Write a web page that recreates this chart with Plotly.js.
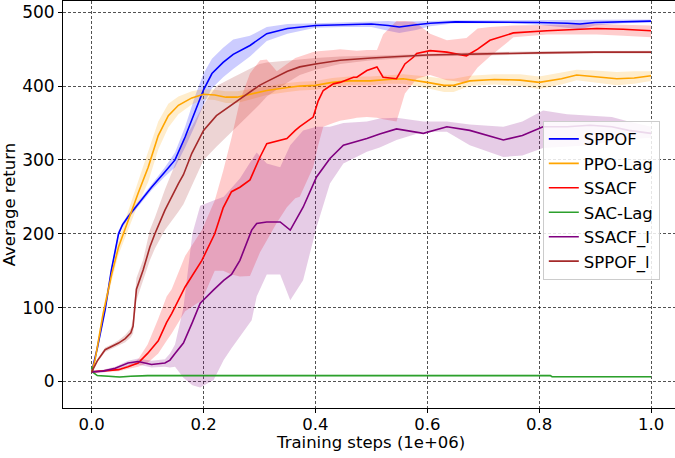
<!DOCTYPE html>
<html>
<head>
<meta charset="utf-8">
<script src="https://cdn.plot.ly/plotly-3.0.1.min.js"></script>
<style>html,body{margin:0;padding:0;background:#fff;}#chart{width:675px;height:458px;}</style>
</head>
<body>
<div id="chart"></div>
<script>
// ---- SPPOF (blue)
const sppofX = [0, .01, .024, .035, .048, .055, .065, .085, .107, .13, .149, .167, .185, .2, .215, .235, .253, .283, .313, .35, .4, .45, .5, .53, .55, .58, .605, .65, .7, .75, .8, .85, .873, .9, .95, 1.0];
const sppofMean = [13, 45, 97, 150, 200, 212, 223, 242, 263, 283, 300, 331, 367, 395, 417, 432, 443, 455, 471, 478, 482, 483, 484, 482, 480, 483, 485, 487, 487, 487, 486, 485, 484, 486, 487, 488];
const sppofUpper = [14, 48, 101, 154, 204, 215, 226, 245, 267, 289, 310, 345, 387, 417, 437, 452, 463, 468, 480, 484, 485, 486, 488, 488, 487, 488, 488, 489, 489, 489, 489, 490, 490, 489, 489, 490];
const sppofLower = [12, 42, 93, 146, 196, 209, 220, 239, 259, 277, 290, 317, 347, 375, 397, 412, 423, 440, 461, 471, 479, 480, 480, 475, 472, 476, 481, 485, 485, 485, 483, 479, 477, 482, 485, 486];

// ---- PPO-Lag (orange)
const ppoX = [0, .006, .02, .036, .048, .065, .083, .101, .119, .137, .155, .179, .2, .22, .24, .26, .29, .313, .35, .372, .4, .43, .46, .498, .53, .557, .6, .63, .647, .676, .72, .766, .8, .84, .867, .9, .939, .97, 1.0];
const ppoMean = [13, 29, 90, 146, 182, 218, 255, 290, 333, 360, 374, 384, 389, 388, 385, 385, 390, 394, 398, 400, 401, 405, 407, 407, 409, 410, 405, 401, 401, 407, 409, 408, 405, 410, 415, 413, 410, 411, 414];
const ppoUpper = [14, 32, 97, 155, 192, 230, 270, 310, 352, 376, 386, 393, 396, 395, 393, 393, 397, 400, 404, 406, 407, 411, 413, 413, 415, 416, 413, 410, 410, 414, 416, 416, 413, 418, 422, 421, 419, 420, 420];
const ppoLower = [12, 26, 83, 137, 172, 206, 240, 270, 314, 344, 362, 375, 382, 381, 377, 377, 383, 388, 392, 394, 395, 399, 401, 401, 403, 403, 397, 392, 392, 400, 402, 400, 396, 402, 408, 405, 401, 403, 407];

// ---- SSACF (red)
const ssacfX = [0, .02, .048, .065, .083, .1, .119, .134, .143, .167, .197, .22, .235, .25, .265, .283, .301, .313, .331, .349, .364, .372, .396, .405, .414, .432, .444, .468, .474, .492, .51, .521, .545, .56, .575, .581, .605, .635, .67, .69, .712, .754, .814, .86, .903, .95, 1.0];
const ssacfMean = [13, 14, 16, 20, 25, 38, 55, 80, 92, 128, 164, 200, 235, 257, 263, 273, 304, 322, 325, 329, 340, 345, 358, 380, 394, 403, 405, 412, 412, 421, 426, 412, 410, 430, 439, 444, 448, 446, 441, 450, 462, 472, 475, 477, 478, 477, 475];
const ssacfUpper = [14, 15, 18, 22, 30, 50, 85, 115, 125, 170, 205, 245, 285, 330, 380, 417, 435, 436, 420, 430, 438, 440, 446, 447, 448, 449, 450, 448, 448, 449, 449, 470, 488, 488, 487, 485, 471, 462, 465, 478, 480, 482, 483, 484, 484, 483, 482];
const ssacfLower = [12, 13, 14, 17, 20, 25, 38, 55, 65, 95, 110, 150, 150, 145, 142, 143, 175, 191, 215, 236, 248, 250, 290, 320, 345, 350, 353, 356, 357, 358, 357, 355, 352, 390, 405, 410, 415, 408, 405, 425, 440, 466, 470, 470, 470, 468, 466];

// ---- SAC-Lag (green)
const sacX = [0, .003, .01, .03, .05, .07, .1, .2, .4, .6, .82, .823, .9, 1.0];
const sacMean = [20, 12, 8, 7, 6, 7, 8, 8, 8, 8, 8, 6.5, 6.5, 6.5];
const sacUpper = [22, 13, 9, 8, 7, 8, 9, 9, 9, 9, 9, 7.5, 7.5, 7.5];
const sacLower = [12, 10, 7, 6, 5, 6, 7, 7, 7, 7, 7, 5.5, 5.5, 5.5];

// ---- SSACF_l (purple)
const ssacflX = [0, .02, .042, .065, .083, .107, .131, .14, .149, .164, .18, .194, .218, .236, .25, .265, .286, .295, .313, .337, .355, .378, .402, .426, .45, .492, .515, .545, .593, .635, .676, .736, .77, .807, .85, .891, .93, .96, 1.0];
const ssacflMean = [13, 14, 18, 25, 27, 23, 25, 29, 38, 52, 80, 106, 124, 137, 145, 164, 205, 214, 216, 216, 205, 236, 277, 302, 320, 329, 335, 342, 336, 345, 340, 327, 333, 345, 345, 347, 345, 340, 336];
const ssacflUpper = [14, 16, 20, 28, 31, 28, 30, 38, 50, 100, 200, 238, 245, 250, 262, 275, 300, 310, 295, 290, 320, 340, 345, 345, 350, 352, 356, 357, 352, 352, 348, 345, 352, 367, 362, 360, 358, 352, 345];
const ssacflLower = [12, 12, 15, 21, 23, 19, 20, 19, 20, 5, -5, -8, 2, 29, 45, 61, 83, 115, 145, 145, 110, 137, 209, 268, 295, 311, 317, 327, 338, 338, 320, 304, 306, 316, 318, 320, 325, 328, 330];

// ---- SPPOF_l (brown)
const sppoflX = [0, .01, .024, .038, .048, .06, .07, .074, .08, .092, .104, .113, .131, .155, .164, .179, .2, .223, .253, .274, .3, .313, .35, .372, .4, .444, .5, .6, .7, .8, .9, 1.0];
const sppoflMean = [13, 28, 43, 48, 52, 58, 66, 75, 125, 151, 182, 200, 232, 268, 280, 309, 340, 360, 376, 387, 401, 406, 420, 426, 430, 435, 438, 442, 444, 445, 446, 446];
const sppoflUpper = [14, 30, 46, 51, 56, 63, 72, 85, 140, 165, 205, 222, 260, 305, 327, 345, 375, 400, 412, 420, 430, 432, 435, 436, 438, 440, 441, 444, 446, 447, 448, 448];
const sppoflLower = [12, 26, 40, 45, 48, 53, 60, 65, 110, 137, 164, 180, 205, 230, 240, 265, 300, 318, 340, 355, 375, 386, 405, 415, 422, 430, 435, 440, 442, 443, 444, 444];

const xTickVals = [0, 0.2, 0.4, 0.6, 0.8, 1.0];
const xTickText = ['0.0', '0.2', '0.4', '0.6', '0.8', '1.0'];
const yTickVals = [0, 100, 200, 300, 400, 500];
const xTitle = 'Training steps (1e+06)';
const yTitle = 'Average return';

const series = [
  {name: 'SPPOF', x: sppofX, m: sppofMean, u: sppofUpper, l: sppofLower, c: 'rgb(0,0,255)', f: 'rgba(0,0,255,0.2)'},
  {name: 'PPO-Lag', x: ppoX, m: ppoMean, u: ppoUpper, l: ppoLower, c: 'rgb(255,165,0)', f: 'rgba(255,165,0,0.2)'},
  {name: 'SSACF', x: ssacfX, m: ssacfMean, u: ssacfUpper, l: ssacfLower, c: 'rgb(255,0,0)', f: 'rgba(255,0,0,0.2)'},
  {name: 'SAC-Lag', x: sacX, m: sacMean, u: sacUpper, l: sacLower, c: 'rgb(44,160,44)', f: 'rgba(44,160,44,0.2)'},
  {name: 'SSACF_l', x: ssacflX, m: ssacflMean, u: ssacflUpper, l: ssacflLower, c: 'rgb(128,0,128)', f: 'rgba(128,0,128,0.2)'},
  {name: 'SPPOF_l', x: sppoflX, m: sppoflMean, u: sppoflUpper, l: sppoflLower, c: 'rgb(165,42,42)', f: 'rgba(165,42,42,0.2)'}
];

const traces = [];
series.forEach(s => {
  traces.push({x: s.x, y: s.l, type: 'scatter', mode: 'lines', line: {width: 0, color: s.f}, showlegend: false, hoverinfo: 'skip'});
  traces.push({x: s.x, y: s.u, type: 'scatter', mode: 'lines', line: {width: 0, color: s.f}, fill: 'tonexty', fillcolor: s.f, showlegend: false, hoverinfo: 'skip'});
});
series.forEach(s => {
  traces.push({x: s.x, y: s.m, type: 'scatter', mode: 'lines', name: s.name, line: {width: 1.6, color: s.c}});
});

const gridStyle = {showgrid: true, gridcolor: 'rgba(0,0,0,0.85)', gridwidth: 0.8, griddash: '3px,2px'};

const layout = {
  width: 675, height: 458,
  margin: {l: 63, r: 0, t: 1, b: 50},
  paper_bgcolor: '#fff', plot_bgcolor: '#fff',
  font: {family: 'DejaVu Sans, sans-serif', size: 16.5, color: '#000'},
  xaxis: Object.assign({
    range: [-0.0513, 1.0429], tickvals: xTickVals, ticktext: xTickText,
    ticks: 'outside', ticklen: 4, tickcolor: '#000', tickwidth: 1,
    tickfont: {size: 16.5}, ticklabelstandoff: -3,
    showline: true, linecolor: '#000', linewidth: 1, mirror: true, zeroline: false
  }, gridStyle),
  yaxis: Object.assign({
    range: [-35.9, 515.2], tickvals: yTickVals,
    ticks: 'outside', ticklen: 4, tickcolor: '#000', tickwidth: 1,
    tickfont: {size: 17},
    showline: true, linecolor: '#000', linewidth: 1, zeroline: false,
    title: {text: yTitle, standoff: 5, font: {size: 16.5}}
  }, gridStyle),
  annotations: [{
    text: xTitle, xref: 'paper', yref: 'paper', x: 0.503, y: -0.084,
    xanchor: 'center', yanchor: 'middle', showarrow: false, font: {size: 16.5, color: '#000'}
  }],
  legend: {
    x: 0.784, y: 0.706, xanchor: 'left', yanchor: 'top',
    traceorder: 'normal',
    bgcolor: 'rgba(255,255,255,0.85)', bordercolor: '#cccccc', borderwidth: 1,
    font: {size: 16.5, color: '#000'}, tracegroupgap: 0
  },
  showlegend: true
};

Plotly.newPlot('chart', traces, layout, {displayModeBar: false, staticPlot: true});
</script>
</body>
</html>
